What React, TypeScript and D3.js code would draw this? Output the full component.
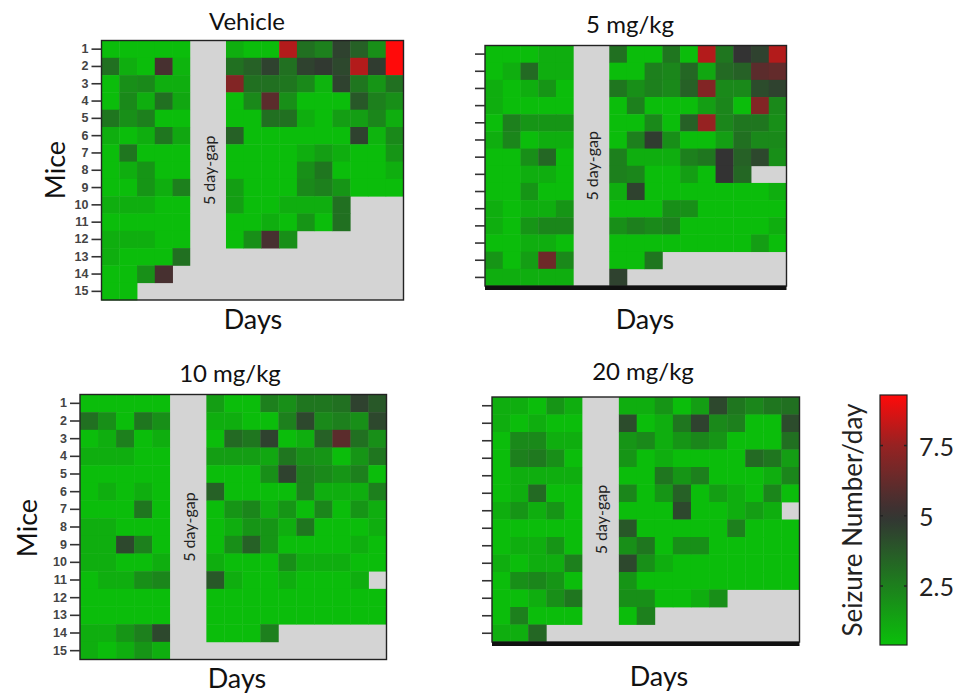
import React from "react";
import * as d3 from "d3";

// days before / after the 5 day gap, and the two empty slots for the gap itself
const preDays = ["1", "2", "3", "4", "5"];
const postDays = ["6", "7", "8", "9", "10", "11", "12", "13", "14", "15"];
const gapSlots = ["gapA", "gapB"];
const days = [...preDays, ...postDays];

const mice15 = ["1", "2", "3", "4", "5", "6", "7", "8", "9", "10", "11", "12", "13", "14", "15"];
const mice14 = mice15.slice(0, 14);

// seizures per day, one row per mouse, null = no recording (grey)
const vehicleValues = [
  [0.5, 0.5, 0.5, 0.5, 0.5, 1, 0.5, 0.5, 8, 3, 2.5, 4.5, 3.5, 2, 9.3],
  [3, 1, 0.5, 5.5, 0.8, 3, 3.5, 4.5, 3, 4.5, 4.8, 4.3, 8, 4.7, 9.3],
  [0.5, 2, 2.2, 1, 1, 7, 3, 3, 2.8, 2.2, 0.8, 4.5, 2.8, 1.8, 3],
  [0.5, 2.2, 1, 3, 1.2, 0.5, 2.2, 6, 2, 0.5, 0.5, 0.5, 3.8, 2.5, 2],
  [2.8, 2, 2.5, 0.5, 0.5, 0.5, 0.5, 3, 3, 1, 0.5, 1.5, 1.5, 2.3, 1],
  [1, 0.5, 1, 2.8, 1.2, 3.5, 0.5, 0.5, 0.5, 0.5, 0.5, 0.5, 4.5, 0.8, 2.2],
  [0.5, 2.8, 0.5, 0.5, 0.5, 0.5, 0.5, 0.5, 0.5, 1, 1.5, 1, 0.5, 0.5, 1.8],
  [0.5, 1, 1.8, 0.5, 0.5, 0.5, 0.5, 0.5, 0.5, 2, 2.8, 0.5, 0.5, 0.5, 1],
  [0.5, 0.5, 1.8, 1, 2.5, 1.5, 0.5, 0.5, 0.5, 2.2, 2.5, 1.8, 0.5, 0.5, 0.5],
  [1, 1, 1, 0.5, 0.5, 1.5, 0.5, 0.5, 1, 1, 1, 3, null, null, null],
  [0.5, 0.5, 0.5, 0.5, 0.5, 0.5, 0.5, 1, 0.5, 1.8, 0.5, 3, null, null, null],
  [1, 1, 1, 0.5, 0.5, 0.5, 2, 5.5, 2, null, null, null, null, null, null],
  [1, 0.5, 0.5, 0.5, 3, null, null, null, null, null, null, null, null, null, null],
  [0.5, 0.5, 2, 5.5, null, null, null, null, null, null, null, null, null, null, null],
  [0.5, 0.5, null, null, null, null, null, null, null, null, null, null, null, null, null],
];

const mg5Values = [
  [0.5, 0.5, 0.5, 1, 1, 3, 0.5, 0.5, 2.8, 0.5, 8, 2.8, 5, 4.5, 8],
  [0.5, 1, 3.2, 1, 1, 0.5, 0.5, 2.5, 2.3, 3.3, 1.2, 3.2, 3.5, 6, 6.2],
  [1, 0.5, 1, 1.8, 0.5, 2.8, 2, 2.5, 2.2, 3.5, 7, 2.2, 2.2, 4.2, 4.5],
  [1, 0.5, 0.5, 0.5, 0.5, 0.5, 2.5, 0.5, 0.5, 0.5, 1.5, 2.3, 0.5, 7, 2.2],
  [0.5, 2.5, 1.8, 1.8, 1.8, 0.5, 0.5, 2.2, 0.5, 3.5, 7.5, 2.3, 2.8, 2.8, 2],
  [1, 2.3, 0.5, 1, 1, 0.5, 2.5, 4.7, 2, 0.5, 0.5, 1.5, 3, 2.2, 2.2],
  [0.5, 0.5, 2, 3.3, 0.5, 2.5, 1, 1, 1, 2.5, 2.8, 5, 3.5, 4.3, 2],
  [0.5, 0.5, 1, 1, 0.5, 2.5, 2.3, 0.5, 0.5, 1.5, 0.5, 5, 3.3, null, null],
  [0.5, 0.5, 1.8, 0.5, 0.5, 1, 4.5, 0.5, 0.5, 0.5, 0.5, 0.5, 0.5, 0.5, 1],
  [1, 0.5, 1, 1, 1.8, 0.5, 0.5, 0.5, 2, 2, 0.5, 0.5, 0.5, 0.5, 0.5],
  [1, 0.5, 1.8, 2.3, 2.3, 2, 2.5, 2.2, 2.5, 0.5, 0.5, 0.5, 0.5, 0.5, 1],
  [0.5, 0.5, 1, 1, 0.5, 0.5, 0.5, 0.5, 0.5, 0.5, 0.5, 0.5, 0.5, 1.5, 0.5],
  [1.8, 0.5, 1.5, 6.5, 2.2, 0.5, 0.5, 2.8, null, null, null, null, null, null, null],
  [1, 1, 1, 1, 1, 4.5, null, null, null, null, null, null, null, null, null],
];

const mg10Values = [
  [0.5, 0.5, 0.5, 0.5, 0.5, 1.5, 0.5, 0.5, 2.5, 2, 2.8, 2.8, 3, 4.5, 3.8],
  [3, 2, 0.5, 2.8, 2, 1, 1, 0.5, 0.5, 2.5, 4.3, 2.2, 2.5, 2, 4.3],
  [0.5, 1, 2.5, 0.5, 1, 0.5, 3.2, 2.8, 4.5, 0.5, 1, 3.5, 6, 3, 2],
  [1, 1, 1, 0.5, 0.5, 1.5, 1.5, 1.5, 1.2, 2.8, 2, 1.8, 0.5, 1.8, 2.8],
  [0.5, 0.5, 0.5, 0.5, 0.5, 0.5, 0.5, 0.5, 2, 4.5, 2.5, 2.2, 1.8, 2.5, 0.5],
  [0.5, 1, 0.5, 1, 0.5, 3.5, 0.5, 0.5, 0.5, 0.5, 2.5, 1, 1, 1, 2.5],
  [0.5, 0.5, 0.5, 2.8, 0.5, 0.5, 1.8, 2.3, 1, 1.8, 0.5, 2.3, 0.5, 1.8, 1],
  [1, 1, 0.5, 0.5, 0.5, 0.5, 1, 1.8, 1.8, 1, 2.8, 0.5, 0.5, 0.5, 1],
  [1, 1, 4.3, 2.5, 0.5, 0.5, 2, 3.5, 1.8, 0.5, 0.5, 0.5, 0.5, 1, 0.5],
  [1, 1, 0.5, 0.5, 1, 1, 0.5, 0.5, 0.5, 2, 1, 1, 1, 0.5, 0.5],
  [0.5, 1, 1, 2, 2.3, 3.8, 1, 0.5, 0.5, 1, 0.5, 0.5, 0.5, 1, null],
  [0.5, 0.5, 0.5, 0.5, 0.5, 0.5, 0.5, 0.5, 0.5, 0.5, 0.5, 0.5, 0.5, 0.5, 0.5],
  [0.5, 0.5, 0.5, 0.5, 0.5, 0.5, 0.5, 0.5, 0.5, 0.5, 0.5, 0.5, 0.5, 0.5, 0.5],
  [1, 1, 1.8, 2.5, 4.3, 0.5, 0.5, 0.5, 2.5, null, null, null, null, null, null],
  [1, 0.5, 1, 1.8, 1, null, null, null, null, null, null, null, null, null, null],
];

const mg20Values = [
  [1, 1, 0.5, 1.8, 1, 1, 1, 1.8, 0.5, 1.5, 4.3, 2.8, 2.3, 2.8, 3],
  [1, 0.5, 1, 0.5, 0.5, 4.2, 0.5, 1, 2.8, 4.5, 2.2, 2.5, 0.5, 0.5, 4.2],
  [0.5, 2.2, 2.2, 1, 1, 1.8, 2.2, 1, 1.8, 2.3, 1.8, 0.5, 0.5, 0.5, 3],
  [0.5, 2.5, 2.7, 2, 0.5, 1.8, 0.5, 1, 0.5, 0.5, 0.5, 0.5, 3.2, 2.8, 1.5],
  [0.5, 1, 1, 1, 1, 0.5, 0.5, 2.8, 1.8, 2.5, 0.5, 0.5, 0.5, 1, 2.3],
  [0.5, 1, 3.2, 0.5, 0.5, 2.3, 0.5, 1.8, 3.5, 0.5, 1.5, 1, 0.5, 2.3, 0.5],
  [1, 1.8, 1, 1.8, 0.5, 0.5, 0.5, 0.5, 4.3, 0.5, 0.5, 1, 1.5, 1, null],
  [0.5, 0.5, 0.5, 0.5, 0.5, 3.8, 0.5, 0.5, 0.5, 0.5, 0.5, 2.5, 0.5, 0.5, 0.5],
  [0.5, 1, 1, 1.8, 0.5, 2, 2.8, 0.5, 2, 2, 0.5, 0.5, 0.5, 0.5, 0.5],
  [1, 0.5, 1, 1, 2.5, 4.3, 2, 1, 0.5, 0.5, 0.5, 0.5, 0.5, 0.5, 0.5],
  [0.5, 2, 2.3, 1.8, 0.5, 1.8, 0.5, 0.5, 0.5, 0.5, 0.5, 0.5, 0.5, 0.5, 0.5],
  [0.5, 0.5, 1, 2, 2.8, 2, 2, 0.5, 0.5, 1, 2, null, null, null, null],
  [0.5, 2.5, 0.5, 0.5, 0.5, 0.5, 2.5, null, null, null, null, null, null, null, null],
  [1, 1, 3.3, null, null, null, null, null, null, null, null, null, null, null, null],
];

const colorTicks = [2.5, 5, 7.5];

const font = "Lato, 'Open Sans', sans-serif";
const grey = "#d4d4d4";

const color = d3
  .scaleLinear<string>()
  .domain([0.4, 5, 7.5, 9.3])
  .range(["#0ac00a", "#333333", "#962222", "#ff0a0a"])
  .clamp(true);

const panels = [
  { title: "Vehicle", values: vehicleValues, mice: mice15, x0: 101.5, x1: 403.5, y0: 40.5, y1: 300,
    labels: true, thick: false, titleX: 247, titleY: 30, daysX: 253, daysY: 329, miceX: 65, miceY: 170 },
  { title: "5 mg/kg", values: mg5Values, mice: mice14, x0: 485, x1: 786.5, y0: 45.5, y1: 286,
    labels: false, thick: true, titleX: 630, titleY: 33, daysX: 645, daysY: 329 },
  { title: "10 mg/kg", values: mg10Values, mice: mice15, x0: 80, x1: 386.5, y0: 394.5, y1: 659.5,
    labels: true, thick: false, titleX: 230, titleY: 382, daysX: 237, daysY: 688, miceX: 37, miceY: 528 },
  { title: "20 mg/kg", values: mg20Values, mice: mice14, x0: 492, x1: 799.5, y0: 397, y1: 642,
    labels: false, thick: true, titleX: 643, titleY: 380, daysX: 659, daysY: 686 },
];

function Panel({ p }) {
  const x = d3.scaleBand().domain([...preDays, ...gapSlots, ...postDays]).range([p.x0, p.x1]);
  const y = d3.scaleBand().domain(p.mice).range([p.y0, p.y1]);
  const bw = x.bandwidth();
  const bh = y.bandwidth();
  const gapX = x("gapA");

  return (
    <g>
      <text x={p.titleX} y={p.titleY} textAnchor="middle" fontSize={24} fontFamily={font} fill="#111">
        {p.title}
      </text>
      <rect x={p.x0} y={p.y0} width={p.x1 - p.x0} height={p.y1 - p.y0} fill={grey} />
      {p.values.map((row, r) =>
        row.map((v, i) =>
          v == null ? null : (
            <rect
              key={`${r}-${i}`}
              x={x(days[i])}
              y={y(p.mice[r])}
              width={bw + 0.4}
              height={bh + 0.4}
              fill={color(v)}
            />
          )
        )
      )}
      <rect x={gapX} y={p.y0} width={bw * 2} height={p.y1 - p.y0} fill={grey} />
      <text
        transform={`translate(${gapX + bw},${(p.y0 + p.y1) / 2}) rotate(-90)`}
        textAnchor="middle"
        dominantBaseline="central"
        fontSize={16}
        fontFamily={font}
        fill="#222"
      >
        5 day-gap
      </text>
      <rect x={p.x0} y={p.y0} width={p.x1 - p.x0} height={p.y1 - p.y0} fill="none" stroke="#222" strokeWidth={1.4} />
      {p.thick && (
        <line x1={p.x0} x2={p.x1} y1={p.y1 + 2} y2={p.y1 + 2} stroke="#111" strokeWidth={4} />
      )}
      {p.mice.map((m) => (
        <g key={m}>
          <line x1={p.x0 - 10} x2={p.x0} y1={y(m) + bh / 2} y2={y(m) + bh / 2} stroke="#333" strokeWidth={1.6} />
          {p.labels && (
            <text
              x={p.x0 - 13}
              y={y(m) + bh / 2}
              textAnchor="end"
              dominantBaseline="central"
              fontSize={12.5}
              fontWeight="bold"
              fontFamily="'Liberation Sans', Arial, sans-serif"
              fill="#444"
            >
              {m}
            </text>
          )}
        </g>
      ))}
      {p.labels && (
        <text
          transform={`translate(${p.miceX},${p.miceY}) rotate(-90)`}
          textAnchor="middle"
          fontSize={27}
          fontFamily={font}
          fill="#111"
        >
          Mice
        </text>
      )}
      <text x={p.daysX} y={p.daysY} textAnchor="middle" fontSize={27} fontFamily={font} fill="#111">
        Days
      </text>
    </g>
  );
}

function ColorBar() {
  const x0 = 880;
  const w = 27;
  const yScale = d3.scaleLinear().domain([0.4, 9.3]).range([645, 395]);
  const stops = d3.range(0, 1.0001, 0.05).map((t) => {
    const v = 0.4 + t * (9.3 - 0.4);
    return { offset: `${(t * 100).toFixed(1)}%`, c: color(v) };
  });
  return (
    <g>
      <defs>
        <linearGradient id="cbar" x1="0" y1="1" x2="0" y2="0">
          {stops.map((s) => (
            <stop key={s.offset} offset={s.offset} stopColor={s.c} />
          ))}
        </linearGradient>
      </defs>
      <rect x={x0} y={yScale(9.3)} width={w} height={yScale(0.4) - yScale(9.3)} fill="url(#cbar)" stroke="#222" strokeWidth={1.2} />
      {colorTicks.map((t) => (
        <g key={t}>
          <line x1={x0} x2={x0 + 3} y1={yScale(t)} y2={yScale(t)} stroke="#222" strokeWidth={1.5} />
          <line x1={x0 + w - 3} x2={x0 + w} y1={yScale(t)} y2={yScale(t)} stroke="#222" strokeWidth={1.5} />
          <text x={x0 + 39} y={yScale(t)} dominantBaseline="central" fontSize={25} fontFamily={font} fill="#222">
            {t}
          </text>
        </g>
      ))}
      <text
        transform={`translate(862,${(yScale(0.4) + yScale(9.3)) / 2}) rotate(-90)`}
        textAnchor="middle"
        fontSize={26}
        fontFamily={font}
        fill="#222"
      >
        Seizure Number/day
      </text>
    </g>
  );
}

export default function App() {
  return (
    <svg width={963} height={693} style={{ position: "absolute", left: 0, top: 0, background: "#fff" }}>
      {panels.map((p) => (
        <Panel key={p.title} p={p} />
      ))}
      <ColorBar />
    </svg>
  );
}
